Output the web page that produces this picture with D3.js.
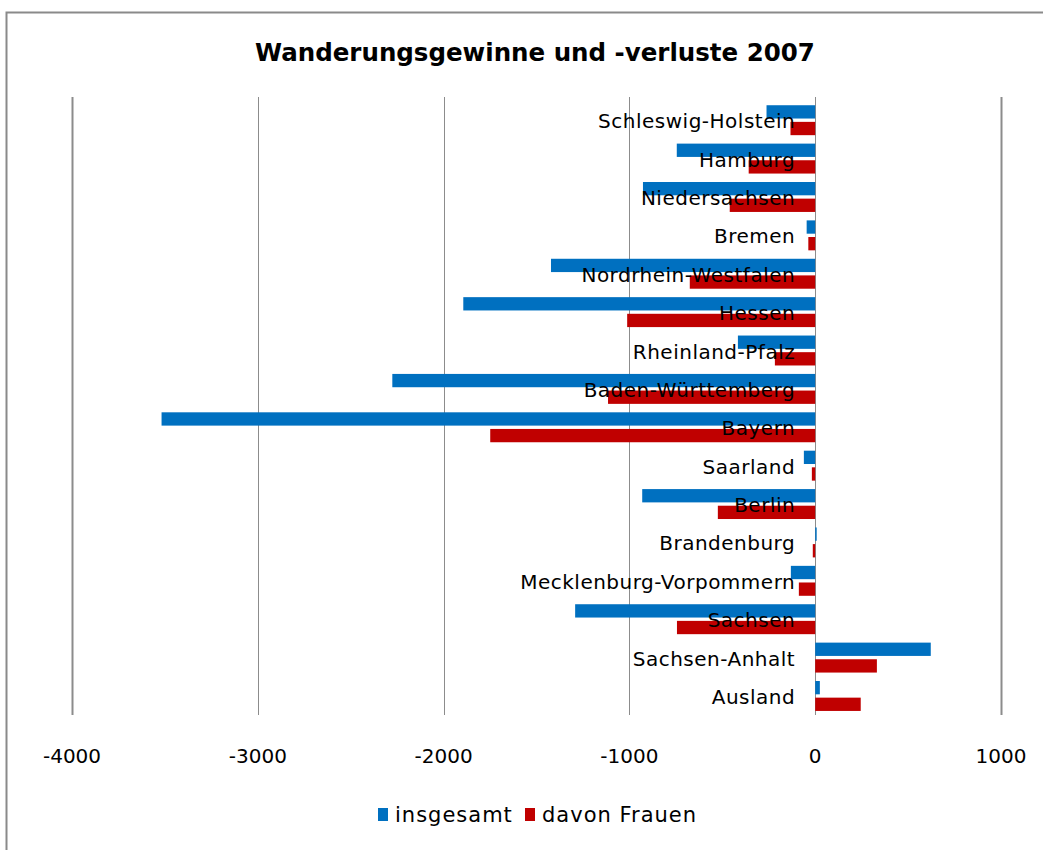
<!DOCTYPE html>
<html>
<head>
<meta charset="utf-8">
<script src="https://cdn.jsdelivr.net/npm/d3@7"></script>
<style>
  body { margin: 0; background: #fff; }
  text { font-family: 'DejaVu Sans', sans-serif; }
</style>
</head>
<body>
<svg class="chart-svg" width="1043" height="850"></svg>
<script>
// values
const laender = [
  'Schleswig-Holstein', 'Hamburg', 'Niedersachsen', 'Bremen',
  'Nordrhein-Westfalen', 'Hessen', 'Rheinland-Pfalz', 'Baden-Württemberg',
  'Bayern', 'Saarland', 'Berlin', 'Brandenburg',
  'Mecklenburg-Vorpommern', 'Sachsen', 'Sachsen-Anhalt', 'Ausland'
]
const insgesamt = [-262, -745, -927, -46, -1422, -1894, -416, -2276, -3518, -61, -931, 8, -131, -1292, 622, 25]
const davonFrauen = [-133, -358, -460, -37, -675, -1012, -217, -1115, -1749, -18, -524, -13, -88, -744, 332, 245]
const xTicks = [-4000, -3000, -2000, -1000, 0, 1000]

const series = [
  { key: 'insgesamt', label: 'insgesamt', color: '#0070c0', values: insgesamt },
  { key: 'frauen', label: 'davon Frauen', color: '#c00000', values: davonFrauen }
]

const svg = d3.select('.chart-svg')

// outer chart frame (only left and top edges visible)
svg.append('path')
  .attr('d', 'M6.5,850 L6.5,12.5 L1043,12.5')
  .attr('fill', 'none')
  .attr('stroke', '#8a8a8a')
  .attr('stroke-width', 2)

svg.append('text')
  .attr('x', 535)
  .attr('y', 61)
  .attr('text-anchor', 'middle')
  .style('font-size', '24.5px')
  .style('font-weight', 'bold')
  .text('Wanderungsgewinne und -verluste 2007')

const x = d3.scaleLinear().domain([-4000, 1000]).range([72, 1001])
const y = d3.scaleBand().domain(laender).range([97, 715])
  .paddingInner(0.22).paddingOuter(0.16).align(0.67)
const ySub = d3.scaleBand().domain(series.map(s => s.key))
  .range([0, y.bandwidth()]).paddingInner(0.2)

// gridlines
svg.append('g')
  .selectAll('line')
  .data(xTicks)
  .enter()
  .append('line')
  .attr('x1', d => Math.round(x(d)) + 0.5)
  .attr('x2', d => Math.round(x(d)) + 0.5)
  .attr('y1', 97)
  .attr('y2', 715)
  .attr('stroke', '#8c8c8c')
  .attr('stroke-width', d => (d === -4000 || d === 1000) ? 2 : 1)

// bars
const groups = svg.append('g')
  .selectAll('g')
  .data(series)
  .enter()
  .append('g')
  .attr('fill', d => d.color)

groups.selectAll('rect')
  .data(s => s.values.map((v, i) => ({ key: s.key, land: laender[i], value: v })))
  .enter()
  .append('rect')
  .attr('x', d => x(Math.min(0, d.value)))
  .attr('y', d => y(d.land) + ySub(d.key))
  .attr('width', d => Math.abs(x(d.value) - x(0)))
  .attr('height', ySub.bandwidth())

// category labels, drawn over the bars
svg.append('g')
  .selectAll('text')
  .data(laender)
  .enter()
  .append('text')
  .attr('x', x(0) - 20)
  .attr('y', d => y(d) + y.bandwidth() / 2 + 1)
  .attr('text-anchor', 'end')
  .attr('dominant-baseline', 'central')
  .style('font-size', '20px')
  .style('letter-spacing', '0.5px')
  .text(d => d)

// x tick labels
svg.append('g')
  .selectAll('text')
  .data(xTicks)
  .enter()
  .append('text')
  .attr('x', d => x(d))
  .attr('y', 756)
  .attr('text-anchor', 'middle')
  .attr('dominant-baseline', 'central')
  .style('font-size', '20px')
  .text(d => d3.format('')(d).replace('−', '-'))

// legend
const legend = svg.append('g')
  .attr('transform', 'translate(378, 815)')
  .selectAll('.legend')
  .data(series)
  .enter()
  .append('g')
  .attr('class', 'legend')
  .attr('transform', (d, i) => 'translate(' + (i * 147) + ', 0)')

legend.append('rect')
  .attr('x', 0)
  .attr('y', -7)
  .attr('width', 10)
  .attr('height', 13)
  .style('fill', d => d.color)

legend.append('text')
  .attr('x', 17)
  .attr('y', 0)
  .attr('dominant-baseline', 'central')
  .style('font-size', '21px')
  .style('letter-spacing', '1px')
  .text(d => d.label)
</script>
</body>
</html>
